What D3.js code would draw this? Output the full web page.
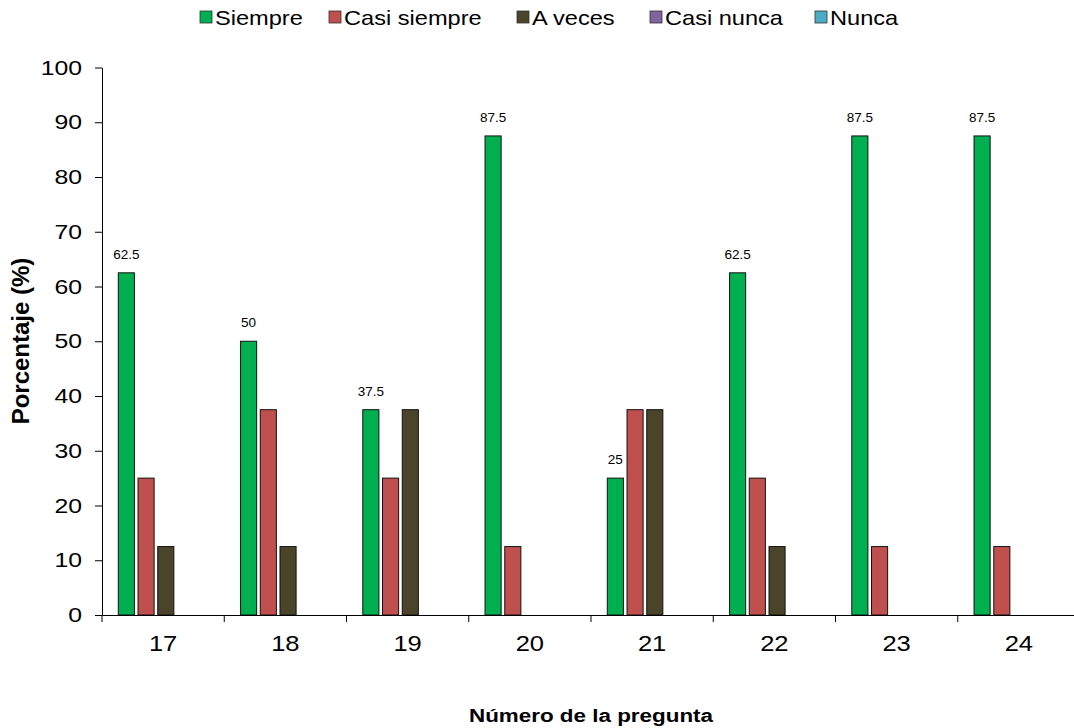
<!DOCTYPE html>
<html><head><meta charset="utf-8">
<script src="https://cdn.jsdelivr.net/npm/d3@7"></script>
<style>body{margin:0;background:#fff}svg{display:block;font-family:"Liberation Sans",Arial,sans-serif}</style>
</head><body><svg id="c" width="1074" height="728"></svg>
<script>
const categories = ["17","18","19","20","21","22","23","24"];
const seriesNames = ["Siempre","Casi siempre","A veces","Casi nunca","Nunca"];
const siempre = [62.5,50,37.5,87.5,25,62.5,87.5,87.5];
const casiSiempre = [25,37.5,25,12.5,37.5,25,12.5,12.5];
const aVeces = [12.5,12.5,37.5,0,37.5,12.5,0,0];
const casiNunca = [0,0,0,0,0,0,0,0];
const nunca = [0,0,0,0,0,0,0,0];
const yTicks = [0,10,20,30,40,50,60,70,80,90,100];
const colors = ["#00B050","#C0504D","#4A452A","#8064A2","#4BACC6"];
const seriesValues = [siempre,casiSiempre,aVeces,casiNunca,nunca];

function stretch(sel, k){
  sel.each(function(){
    const x = +(this.getAttribute("x")||0);
    this.setAttribute("transform",`translate(${x},0) scale(${k},1) translate(${-x},0)`);
  });
}

const svg = d3.select("#c");
const x0 = d3.scaleBand().domain(categories).range([102,1080]);
const x1 = d3.scaleBand().domain(seriesNames).range([16.3,16.3+95]).paddingInner(3.5/19).paddingOuter(0);
const y = d3.scaleLinear().domain([0,100]).range([615,67.5]);

// y axis
const ya = svg.append("g").attr("transform","translate(102,0)")
  .call(d3.axisLeft(y).tickValues(yTicks).tickSize(7).tickPadding(13).tickSizeOuter(0));
ya.select(".domain").attr("stroke","#000");
ya.selectAll("text").attr("font-size",21).attr("font-family","Liberation Sans, Arial").attr("fill","#000").call(stretch,1.18);

// bars
seriesNames.forEach((s,si)=>{
  svg.append("g").selectAll("rect").data(categories.map((c,i)=>({c,v:seriesValues[si][i]})).filter(d=>d.v>0))
    .join("rect")
    .attr("x",d=>x0(d.c)+x1(s)).attr("width",x1.bandwidth())
    .attr("y",d=>y(d.v)).attr("height",d=>y(0)-y(d.v))
    .attr("fill",colors[si]).attr("stroke","#111").attr("stroke-width",1);
});
// labels on Siempre
svg.append("g").selectAll("text").data(categories.map((c,i)=>({c,v:siempre[i]})))
  .join("text")
  .attr("x",d=>x0(d.c)+x1("Siempre")+x1.bandwidth()/2)
  .attr("y",d=>y(d.v)-14)
  .attr("text-anchor","middle").attr("font-size",13.5).attr("fill","#000")
  .text(d=>d.v);

// x axis
const xa = svg.append("g").attr("transform","translate(0,615)")
  .call(d3.axisBottom(x0).tickSize(0).tickPadding(20).tickSizeOuter(0));
xa.select(".domain").attr("stroke","#000");
xa.selectAll("text").attr("font-size",22).attr("font-family","Liberation Sans, Arial").attr("fill","#000").call(stretch,1.16);
xa.selectAll("line.bt").data(categories).join("line").attr("class","bt")
  .attr("x1",d=>x0(d)).attr("x2",d=>x0(d)).attr("y1",0).attr("y2",7).attr("stroke","#000");

// titles
svg.append("text").attr("transform","translate(29,341) rotate(-90)").attr("text-anchor","middle")
  .attr("font-size",24).attr("font-weight","bold").text("Porcentaje (%)");
svg.append("text").attr("x",591).attr("y",722).attr("text-anchor","middle")
  .attr("font-size",19).attr("font-weight","bold").text("Número de la pregunta").call(stretch,1.18);

// legend
const legendX = [200,329,517,650,815];
const lg = svg.append("g");
seriesNames.forEach((s,i)=>{
  lg.append("rect").attr("x",legendX[i]).attr("y",11).attr("width",12).attr("height",12)
    .attr("fill",colors[i]).attr("stroke","#333").attr("stroke-width",0.8);
  lg.append("text").attr("x",legendX[i]+15).attr("y",25).attr("font-size",20).attr("fill","#000").text(s).call(stretch,1.18);
});
</script></body></html>
